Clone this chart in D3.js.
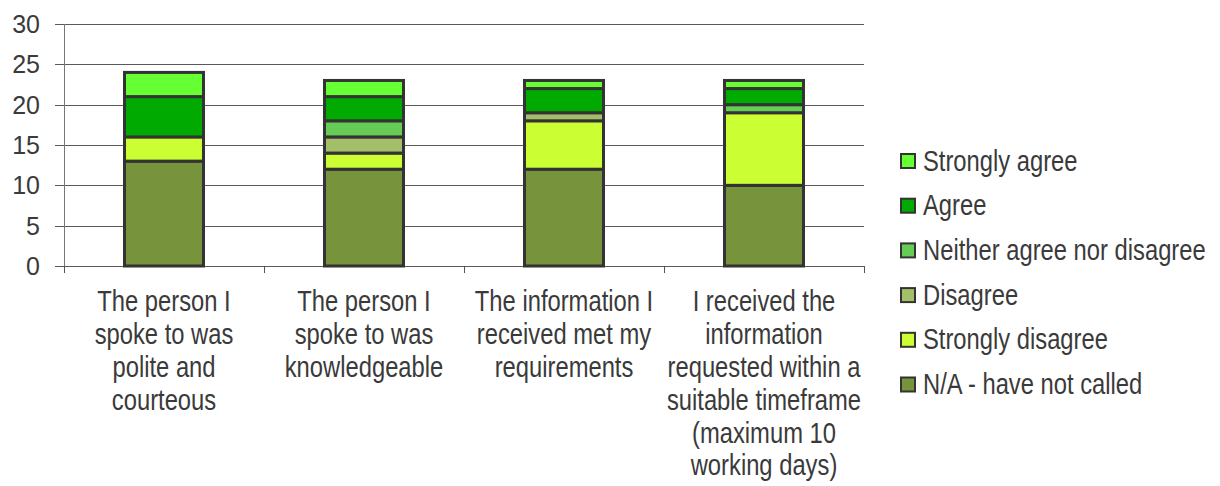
<!DOCTYPE html>
<html>
<head>
<meta charset="utf-8">
<script src="https://cdn.jsdelivr.net/npm/d3@7"></script>
<style>
    body { margin: 0; background: #fff; }
    svg { display: block; font-family: "Liberation Sans", Arial, sans-serif; }
    text { fill: #3a3a3a; }
    .narrow { font-size: 29px; }
</style>
</head>
<body>
<div id="chart"></div>
<script>
const categories = [
    ['The person I', 'spoke to was', 'polite and', 'courteous'],
    ['The person I', 'spoke to was', 'knowledgeable'],
    ['The information I', 'received met my', 'requirements'],
    ['I received the', 'information', 'requested within a', 'suitable timeframe', '(maximum 10', 'working days)']
];
const seriesNames = ['N/A - have not called', 'Strongly disagree', 'Disagree', 'Neither agree nor disagree', 'Agree', 'Strongly agree'];
const seriesColors = ['#77933c', '#ccff33', '#a3bf6a', '#66cc55', '#00aa00', '#66ff33'];
const naValues = [13, 12, 12, 10];
const stronglyDisagree = [3, 2, 6, 9];
const disagree = [0, 2, 1, 0];
const neither = [0, 2, 0, 1];
const agree = [5, 3, 3, 2];
const stronglyAgree = [3, 2, 1, 1];
const yTicks = [0, 5, 10, 15, 20, 25, 30];

const width = 1220, height = 486;
const margin = { left: 64, right: 356, top: 24, bottom: 220 };
const squeeze = 0.82; // text in the original is a narrow face

const svg = d3.select('#chart').append('svg')
    .attr('width', width)
    .attr('height', height);

const series = [naValues, stronglyDisagree, disagree, neither, agree, stronglyAgree];
const rows = categories.map((c, i) => {
    const r = { idx: i };
    series.forEach((s, j) => r[j] = s[i]);
    return r;
});
const stack = d3.stack().keys(d3.range(series.length))(rows);

const x = d3.scaleBand()
    .domain(d3.range(categories.length))
    .range([margin.left, width - margin.right]);
const y = d3.scaleLinear()
    .domain([0, 30])
    .range([height - margin.bottom, margin.top]);

/* gridlines */
svg.append('g')
    .selectAll('line')
    .data(yTicks)
    .join('line')
    .attr('x1', margin.left - 9)
    .attr('x2', width - margin.right)
    .attr('y1', (d) => Math.round(y(d)) + 0.5)
    .attr('y2', (d) => Math.round(y(d)) + 0.5)
    .attr('stroke', '#5a5a5a')
    .attr('stroke-width', 1);

/* y axis line */
svg.append('line')
    .attr('x1', margin.left + 0.5).attr('x2', margin.left + 0.5)
    .attr('y1', y(30)).attr('y2', y(0) + 1)
    .attr('stroke', '#777');

/* category separator ticks */
svg.append('g')
    .selectAll('line')
    .data(d3.range(categories.length + 1))
    .join('line')
    .attr('x1', (d) => Math.round(margin.left + d * x.step()) + 0.5)
    .attr('x2', (d) => Math.round(margin.left + d * x.step()) + 0.5)
    .attr('y1', y(0))
    .attr('y2', y(0) + 7)
    .attr('stroke', '#555');

/* y labels */
svg.append('g')
    .selectAll('text')
    .data(yTicks)
    .join('text')
    .attr('x', 40)
    .attr('y', (d) => y(d))
    .attr('dy', '0.36em')
    .attr('text-anchor', 'end')
    .style('font-size', '25px')
    .text((d) => d);

/* bars */
const barW = 79;
svg.append('g')
    .selectAll('g')
    .data(stack)
    .join('g')
    .attr('fill', (d, i) => seriesColors[i])
    .selectAll('rect')
    .data((d) => d.filter((p) => p[1] > p[0]))
    .join('rect')
    .attr('x', (d) => x(d.data.idx) + x.bandwidth() / 2 - barW / 2)
    .attr('width', barW)
    .attr('y', (d) => y(d[1]))
    .attr('height', (d) => y(d[0]) - y(d[1]))
    .attr('stroke', '#333')
    .attr('stroke-width', 3);

/* category labels */
svg.append('g')
    .selectAll('text')
    .data(categories)
    .join('text')
    .attr('class', 'narrow')
    .attr('text-anchor', 'middle')
    .attr('transform', (d, i) => `translate(${x(i) + x.bandwidth() / 2}, 311) scale(${squeeze}, 1)`)
    .selectAll('tspan')
    .data((d) => d)
    .join('tspan')
    .attr('x', 0)
    .attr('y', (d, i) => i * 32.9)
    .text((d) => d);

/* legend */
const legendOrder = d3.range(seriesNames.length).reverse();
const legend = svg.append('g')
    .selectAll('g')
    .data(legendOrder)
    .join('g')
    .attr('transform', (d, i) => `translate(901, ${161 + i * 44.7})`);
legend.append('rect')
    .attr('x', 0)
    .attr('y', -7)
    .attr('width', 14)
    .attr('height', 14)
    .attr('fill', (d) => seriesColors[d])
    .attr('stroke', '#333')
    .attr('stroke-width', 2);
legend.append('text')
    .attr('class', 'narrow')
    .attr('transform', `translate(22, 9.5) scale(${squeeze}, 1)`)
    .text((d) => seriesNames[d]);
</script>
</body>
</html>
